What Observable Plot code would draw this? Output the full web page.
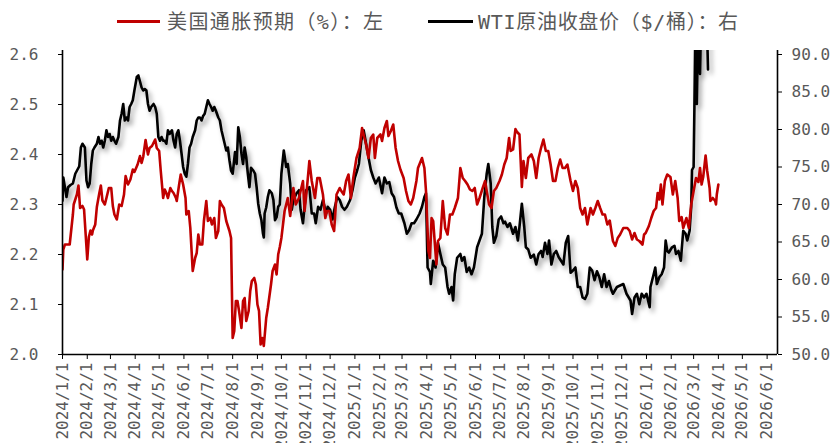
<!DOCTYPE html>
<html><head><meta charset="utf-8">
<script src="https://cdn.jsdelivr.net/npm/d3@7"></script>
<script src="https://cdn.jsdelivr.net/npm/@observablehq/plot@0.6"></script>
<style>
body{margin:0;background:#fff;}
#wrap{position:relative;width:832px;height:443px;overflow:hidden;background:#fff;}
#legend{position:relative;height:40px;font-family:"DejaVu Sans Mono",monospace;font-size:20px;color:#595959;}
.cjk{font-family:"Noto Sans CJK SC",sans-serif;}
.sw{position:absolute;height:3px;top:20px;}
.lt{position:absolute;top:8px;line-height:26px;white-space:nowrap;}
</style></head><body>
<div id="wrap"><div id="legend"></div><div id="chart"></div></div>
<script>
const seriesNames = ["美国通胀预期（%）：左", "WTI原油收盘价（$/桶）：右"];
const seriesColors = ["#C00000", "#000000"];

const leftTicks = [2.0, 2.1, 2.2, 2.3, 2.4, 2.5, 2.6];
const rightTicks = [50, 55, 60, 65, 70, 75, 80, 85, 90];
const xStart = "2024-01-01", xEnd = "2026-06-14";
const monthTicks = ["2024-01-01","2024-02-01","2024-03-01","2024-04-01","2024-05-01","2024-06-01","2024-07-01","2024-08-01","2024-09-01","2024-10-01","2024-11-01","2024-12-01","2025-01-01","2025-02-01","2025-03-01","2025-04-01","2025-05-01","2025-06-01","2025-07-01","2025-08-01","2025-09-01","2025-10-01","2025-11-01","2025-12-01","2026-01-01","2026-02-01","2026-03-01","2026-04-01","2026-05-01","2026-06-01"];

const inflDates = ["2024-01-01","2024-01-02","2024-01-04","2024-01-10","2024-01-14","2024-01-15","2024-01-19","2024-01-21","2024-01-23","2024-01-26","2024-01-28","2024-01-30","2024-02-01","2024-02-03","2024-02-05","2024-02-07","2024-02-08","2024-02-11","2024-02-13","2024-02-16","2024-02-18","2024-02-20","2024-02-23","2024-02-25","2024-02-28","2024-03-02","2024-03-04","2024-03-06","2024-03-09","2024-03-12","2024-03-15","2024-03-18","2024-03-20","2024-03-23","2024-03-26","2024-03-29","2024-03-31","2024-04-04","2024-04-07","2024-04-09","2024-04-11","2024-04-14","2024-04-17","2024-04-19","2024-04-22","2024-04-26","2024-04-28","2024-05-01","2024-05-03","2024-05-06","2024-05-08","2024-05-10","2024-05-12","2024-05-15","2024-05-17","2024-05-19","2024-05-22","2024-05-23","2024-05-26","2024-05-28","2024-05-31","2024-06-03","2024-06-04","2024-06-07","2024-06-09","2024-06-12","2024-06-15","2024-06-17","2024-06-19","2024-06-21","2024-06-24","2024-06-26","2024-06-29","2024-07-01","2024-07-04","2024-07-06","2024-07-09","2024-07-11","2024-07-14","2024-07-16","2024-07-18","2024-07-21","2024-07-24","2024-07-28","2024-07-30","2024-08-01","2024-08-03","2024-08-05","2024-08-07","2024-08-09","2024-08-12","2024-08-14","2024-08-16","2024-08-18","2024-08-21","2024-08-23","2024-08-25","2024-08-28","2024-08-30","2024-09-01","2024-09-03","2024-09-05","2024-09-07","2024-09-09","2024-09-12","2024-09-14","2024-09-18","2024-09-20","2024-09-23","2024-09-25","2024-09-27","2024-09-29","2024-10-01","2024-10-05","2024-10-09","2024-10-12","2024-10-16","2024-10-19","2024-10-23","2024-10-28","2024-10-30","2024-11-02","2024-11-05","2024-11-08","2024-11-12","2024-11-15","2024-11-18","2024-11-22","2024-11-25","2024-11-27","2024-11-30","2024-12-03","2024-12-06","2024-12-09","2024-12-13","2024-12-15","2024-12-18","2024-12-21","2024-12-24","2024-12-27","2024-12-30","2025-01-03","2025-01-07","2025-01-10","2025-01-13","2025-01-15","2025-01-18","2025-01-21","2025-01-24","2025-01-26","2025-01-29","2025-02-02","2025-02-04","2025-02-07","2025-02-10","2025-02-12","2025-02-15","2025-02-18","2025-02-21","2025-02-24","2025-02-27","2025-03-03","2025-03-06","2025-03-09","2025-03-12","2025-03-15","2025-03-19","2025-03-21","2025-03-26","2025-03-29","2025-03-31","2025-04-03","2025-04-05","2025-04-07","2025-04-09","2025-04-13","2025-04-15","2025-04-18","2025-04-21","2025-04-24","2025-04-27","2025-04-30","2025-05-03","2025-05-06","2025-05-10","2025-05-13","2025-05-16","2025-05-19","2025-05-22","2025-05-25","2025-05-28","2025-05-31","2025-06-03","2025-06-06","2025-06-10","2025-06-13","2025-06-15","2025-06-18","2025-06-21","2025-06-24","2025-06-27","2025-07-01","2025-07-04","2025-07-07","2025-07-10","2025-07-13","2025-07-15","2025-07-18","2025-07-21","2025-07-23","2025-07-26","2025-07-29","2025-07-31","2025-08-03","2025-08-06","2025-08-10","2025-08-13","2025-08-16","2025-08-19","2025-08-22","2025-08-25","2025-08-28","2025-08-31","2025-09-03","2025-09-06","2025-09-09","2025-09-12","2025-09-15","2025-09-18","2025-09-21","2025-09-24","2025-09-28","2025-10-01","2025-10-04","2025-10-07","2025-10-10","2025-10-13","2025-10-16","2025-10-19","2025-10-23","2025-10-26","2025-10-29","2025-11-01","2025-11-04","2025-11-07","2025-11-10","2025-11-13","2025-11-16","2025-11-20","2025-11-23","2025-11-26","2025-11-29","2025-12-03","2025-12-06","2025-12-08","2025-12-11","2025-12-14","2025-12-17","2025-12-20","2025-12-23","2025-12-27","2025-12-29","2025-12-31","2026-01-04","2026-01-07","2026-01-10","2026-01-13","2026-01-15","2026-01-17","2026-01-19","2026-01-21","2026-01-24","2026-01-27","2026-01-31","2026-02-03","2026-02-06","2026-02-09","2026-02-11","2026-02-14","2026-02-16","2026-02-20","2026-02-23","2026-02-26","2026-03-01","2026-03-04","2026-03-07","2026-03-09","2026-03-11","2026-03-13","2026-03-16","2026-03-18","2026-03-21","2026-03-22","2026-03-25","2026-03-28","2026-03-29","2026-03-30","2026-04-01"];
const inflValues = [2.17,2.21,2.22,2.22,2.28,2.30,2.32,2.338,2.293,2.297,2.29,2.24,2.19,2.235,2.248,2.24,2.248,2.26,2.295,2.322,2.338,2.308,2.30,2.313,2.333,2.333,2.297,2.28,2.27,2.30,2.297,2.32,2.357,2.34,2.35,2.37,2.365,2.38,2.397,2.383,2.395,2.429,2.40,2.413,2.417,2.43,2.413,2.407,2.367,2.313,2.33,2.323,2.313,2.333,2.327,2.323,2.313,2.307,2.34,2.36,2.34,2.313,2.28,2.287,2.253,2.167,2.193,2.203,2.24,2.22,2.22,2.267,2.307,2.267,2.273,2.26,2.273,2.233,2.247,2.307,2.30,2.293,2.267,2.247,2.233,2.033,2.047,2.107,2.107,2.087,2.053,2.107,2.113,2.067,2.087,2.127,2.147,2.153,2.14,2.10,2.087,2.02,2.033,2.017,2.073,2.093,2.14,2.167,2.18,2.16,2.20,2.215,2.233,2.287,2.313,2.277,2.333,2.30,2.313,2.347,2.287,2.333,2.387,2.347,2.313,2.353,2.353,2.32,2.273,2.287,2.287,2.26,2.247,2.32,2.333,2.327,2.32,2.347,2.36,2.313,2.353,2.393,2.413,2.453,2.433,2.42,2.393,2.433,2.44,2.393,2.433,2.44,2.427,2.453,2.467,2.437,2.447,2.46,2.413,2.387,2.37,2.353,2.327,2.307,2.30,2.313,2.347,2.373,2.393,2.373,2.327,2.207,2.193,2.273,2.267,2.18,2.227,2.233,2.307,2.253,2.24,2.28,2.28,2.293,2.313,2.373,2.353,2.347,2.34,2.33,2.327,2.333,2.30,2.313,2.333,2.347,2.327,2.30,2.293,2.327,2.333,2.347,2.36,2.38,2.393,2.433,2.407,2.41,2.451,2.445,2.44,2.335,2.387,2.353,2.393,2.40,2.387,2.353,2.393,2.413,2.43,2.407,2.407,2.38,2.347,2.347,2.373,2.39,2.373,2.373,2.38,2.347,2.327,2.347,2.333,2.293,2.28,2.293,2.26,2.293,2.28,2.293,2.307,2.293,2.28,2.28,2.26,2.268,2.227,2.217,2.233,2.24,2.253,2.253,2.253,2.247,2.23,2.243,2.23,2.227,2.22,2.24,2.243,2.257,2.273,2.287,2.293,2.323,2.31,2.34,2.30,2.347,2.36,2.355,2.32,2.347,2.313,2.267,2.275,2.253,2.273,2.253,2.30,2.327,2.353,2.345,2.373,2.34,2.355,2.398,2.367,2.333,2.307,2.313,2.307,2.30,2.32,2.34];

const wtiDates = ["2024-01-01","2024-01-02","2024-01-04","2024-01-06","2024-01-08","2024-01-11","2024-01-14","2024-01-17","2024-01-19","2024-01-22","2024-01-24","2024-01-26","2024-01-29","2024-01-31","2024-02-02","2024-02-04","2024-02-06","2024-02-08","2024-02-10","2024-02-13","2024-02-15","2024-02-17","2024-02-19","2024-02-21","2024-02-23","2024-02-25","2024-02-27","2024-02-29","2024-03-02","2024-03-04","2024-03-06","2024-03-08","2024-03-11","2024-03-13","2024-03-15","2024-03-17","2024-03-19","2024-03-21","2024-03-23","2024-03-25","2024-03-27","2024-03-29","2024-03-31","2024-04-03","2024-04-05","2024-04-07","2024-04-09","2024-04-11","2024-04-13","2024-04-15","2024-04-17","2024-04-19","2024-04-21","2024-04-24","2024-04-26","2024-04-28","2024-04-30","2024-05-02","2024-05-04","2024-05-06","2024-05-08","2024-05-10","2024-05-12","2024-05-14","2024-05-17","2024-05-19","2024-05-21","2024-05-23","2024-05-25","2024-05-27","2024-05-29","2024-05-31","2024-06-02","2024-06-04","2024-06-06","2024-06-08","2024-06-10","2024-06-12","2024-06-15","2024-06-17","2024-06-19","2024-06-21","2024-06-23","2024-06-25","2024-06-27","2024-06-29","2024-07-01","2024-07-03","2024-07-05","2024-07-07","2024-07-09","2024-07-11","2024-07-14","2024-07-16","2024-07-18","2024-07-20","2024-07-22","2024-07-24","2024-07-26","2024-07-28","2024-07-30","2024-08-01","2024-08-04","2024-08-06","2024-08-08","2024-08-10","2024-08-12","2024-08-14","2024-08-16","2024-08-18","2024-08-20","2024-08-22","2024-08-24","2024-08-27","2024-08-29","2024-08-31","2024-09-02","2024-09-04","2024-09-06","2024-09-08","2024-09-09","2024-09-10","2024-09-12","2024-09-14","2024-09-16","2024-09-19","2024-09-21","2024-09-23","2024-09-25","2024-09-27","2024-09-29","2024-10-01","2024-10-04","2024-10-07","2024-10-09","2024-10-12","2024-10-14","2024-10-16","2024-10-20","2024-10-23","2024-10-25","2024-10-28","2024-10-30","2024-11-01","2024-11-05","2024-11-08","2024-11-11","2024-11-13","2024-11-16","2024-11-19","2024-11-22","2024-11-26","2024-11-28","2024-12-01","2024-12-04","2024-12-07","2024-12-10","2024-12-13","2024-12-16","2024-12-19","2024-12-22","2024-12-26","2024-12-29","2025-01-01","2025-01-04","2025-01-06","2025-01-09","2025-01-12","2025-01-15","2025-01-18","2025-01-21","2025-01-24","2025-01-27","2025-01-31","2025-02-04","2025-02-07","2025-02-10","2025-02-13","2025-02-16","2025-02-19","2025-02-22","2025-02-25","2025-02-28","2025-03-04","2025-03-07","2025-03-10","2025-03-13","2025-03-16","2025-03-19","2025-03-23","2025-03-26","2025-03-29","2025-03-31","2025-04-02","2025-04-05","2025-04-06","2025-04-09","2025-04-12","2025-04-15","2025-04-18","2025-04-21","2025-04-24","2025-04-27","2025-04-29","2025-05-02","2025-05-04","2025-05-06","2025-05-09","2025-05-13","2025-05-15","2025-05-18","2025-05-21","2025-05-24","2025-05-27","2025-05-30","2025-06-03","2025-06-06","2025-06-09","2025-06-12","2025-06-15","2025-06-17","2025-06-20","2025-06-22","2025-06-24","2025-06-27","2025-06-30","2025-07-03","2025-07-06","2025-07-08","2025-07-11","2025-07-14","2025-07-18","2025-07-21","2025-07-24","2025-07-26","2025-07-29","2025-08-01","2025-08-03","2025-08-06","2025-08-09","2025-08-13","2025-08-16","2025-08-19","2025-08-22","2025-08-24","2025-08-27","2025-08-30","2025-09-01","2025-09-04","2025-09-07","2025-09-10","2025-09-13","2025-09-16","2025-09-19","2025-09-22","2025-09-25","2025-09-28","2025-10-01","2025-10-04","2025-10-07","2025-10-10","2025-10-13","2025-10-16","2025-10-19","2025-10-22","2025-10-25","2025-10-28","2025-10-31","2025-11-03","2025-11-06","2025-11-09","2025-11-12","2025-11-15","2025-11-18","2025-11-20","2025-11-25","2025-11-29","2025-12-03","2025-12-07","2025-12-12","2025-12-14","2025-12-17","2025-12-20","2025-12-23","2025-12-26","2025-12-29","2026-01-01","2026-01-05","2026-01-06","2026-01-10","2026-01-12","2026-01-14","2026-01-17","2026-01-20","2026-01-23","2026-01-25","2026-01-27","2026-01-29","2026-02-02","2026-02-05","2026-02-07","2026-02-10","2026-02-13","2026-02-16","2026-02-19","2026-02-21","2026-02-24","2026-02-26","2026-02-27","2026-03-01","2026-03-02","2026-03-03","2026-03-05","2026-03-07","2026-03-09","2026-03-11","2026-03-13","2026-03-15","2026-03-17","2026-03-19"];
const wtiValues = [70.5,73.6,72.3,71.0,72.3,72.6,72.8,74.1,74.5,75.1,77.6,78.1,77.6,73.2,72.3,72.8,75.4,77.2,77.6,78.1,79.0,78.1,78.5,77.6,78.5,79.9,79.0,79.4,78.5,79.0,78.5,78.1,79.0,81.2,82.1,83.4,81.2,81.6,81.2,83.0,83.4,83.9,85.2,87.0,87.2,86.4,85.6,85.2,85.4,85.2,83.4,82.5,83.0,83.4,83.0,82.1,79.0,78.5,79.0,78.5,78.5,78.1,79.9,79.4,79.9,78.5,77.6,79.4,79.9,78.5,76.8,75.0,74.1,73.7,75.4,77.6,78.1,79.0,79.9,81.2,81.6,81.6,81.2,81.8,82.1,83.0,83.9,83.4,83.0,82.5,83.0,82.5,81.6,81.2,79.9,79.0,78.1,77.2,77.6,75.9,74.5,74.1,77.0,75.4,80.3,79.0,76.8,75.4,77.6,76.3,74.1,72.3,74.9,74.5,74.1,72.3,70.1,68.8,67.9,66.1,65.6,68.8,69.6,71.0,71.9,71.5,70.6,67.9,68.3,69.7,70.0,74.1,77.2,75.0,75.4,72.8,69.3,70.6,71.5,71.9,69.3,67.5,69.7,71.9,72.3,68.8,68.8,67.5,69.7,69.3,70.6,68.8,69.7,69.3,68.0,69.7,71.0,70.6,69.7,69.3,69.7,70.6,71.9,73.6,74.6,75.4,78.5,79.9,78.1,76.3,74.6,73.6,72.8,73.6,71.5,73.6,72.8,73.0,71.5,71.0,69.6,68.8,68.8,67.5,66.1,66.6,67.5,67.5,68.0,68.8,69.7,71.0,71.5,61.6,61.0,59.4,62.5,61.6,64.9,63.4,62.0,61.6,59.0,58.1,59.0,57.2,60.7,62.9,63.4,62.5,63.0,61.0,61.6,60.7,61.6,64.3,65.2,66.1,71.0,74.1,75.4,72.8,67.0,64.9,65.8,68.0,68.4,67.5,67.7,67.0,67.5,66.1,67.0,65.2,67.0,70.1,67.0,64.3,64.0,62.9,63.3,62.0,63.4,63.8,63.0,64.9,63.4,65.2,62.0,63.4,63.8,63.0,62.5,62.0,64.9,65.8,60.9,61.2,61.6,59.0,59.0,57.6,57.4,58.1,61.6,61.2,59.9,61.1,60.3,59.0,60.7,59.0,59.8,58.6,58.1,59.0,59.2,59.4,58.1,57.2,55.4,57.6,58.1,56.7,58.1,57.6,58.1,56.3,59.0,60.7,61.6,59.4,60.3,60.7,61.6,65.2,63.8,63.6,64.3,64.5,63.4,63.8,62.5,66.5,66.1,65.2,66.5,69.7,74.6,75.0,83.0,92.0,83.4,96.0,87.4,98.0,94.0,100.0,97.0,88.0];

// map the right-axis (WTI) values onto the left scale
const toLeft = w => leftTicks[0] + (w - rightTicks[0]) / (rightTicks[rightTicks.length-1] - rightTicks[0]) * (leftTicks[leftTicks.length-1] - leftTicks[0]);
const fromLeft = v => rightTicks[0] + (v - leftTicks[0]) / (leftTicks[leftTicks.length-1] - leftTicks[0]) * (rightTicks[rightTicks.length-1] - rightTicks[0]);

const infl = inflDates.map((d, i) => ({date: new Date(d), v: inflValues[i]}));
const wti = wtiDates.map((d, i) => ({date: new Date(d), w: wtiValues[i]}));
const xDomain = [new Date(xStart), new Date(xEnd)];
const yDomain = [leftTicks[0], leftTicks[leftTicks.length-1]];
const fmtDate = d => `${d.getUTCFullYear()}/${d.getUTCMonth()+1}/${d.getUTCDate()}`;

// legend (CJK and full-width characters in a CJK font, the rest monospace)
const legend = document.getElementById("legend");
const swX = [117, 428], txX = [167, 478], swW = [43, 45], txSpacing = [1.4, 0.7];
seriesNames.forEach((n, i) => {
  const s = document.createElement("div");
  s.className = "sw"; s.style.left = swX[i] + "px"; s.style.width = swW[i] + "px"; s.style.background = seriesColors[i];
  legend.appendChild(s);
  const t = document.createElement("div");
  t.className = "lt"; t.style.left = txX[i] + "px"; t.style.letterSpacing = txSpacing[i] + "px";
  for (const ch of n) {
    const sp = document.createElement("span");
    if (ch.charCodeAt(0) > 0x2e80) sp.className = "cjk";
    sp.textContent = ch;
    t.appendChild(sp);
  }
  legend.appendChild(t);
});

const chart = Plot.plot({
  width: 832,
  height: 403,
  marginLeft: 62,
  marginRight: 55,
  marginTop: 10,
  marginBottom: 89,
  style: {fontFamily: "'DejaVu Sans Mono', monospace", fontSize: "16px", color: "#595959", background: "#fff"},
  x: {type: "utc", domain: xDomain},
  y: {domain: yDomain, range: [314, 14]},
  marks: [
    Plot.axisY(leftTicks, {anchor: "left", tickSize: 4, tickPadding: 20, tickFormat: d => d.toFixed(1), stroke: "#000", fill: "#595959", label: null}),
    Plot.axisY(rightTicks.map(toLeft), {anchor: "right", tickSize: 4, tickPadding: 10, tickFormat: d => fromLeft(d).toFixed(1), stroke: "#000", fill: "#595959", label: null}),
    Plot.axisX(monthTicks.map(d => new Date(d)), {anchor: "bottom", tickSize: 5, tickPadding: 3, tickRotate: -90, tickFormat: fmtDate, stroke: "#000", fill: "#595959", label: null}),
    Plot.line(wti, {x: "date", y: d => toLeft(d.w), stroke: seriesColors[1], strokeWidth: 2.6, strokeLinejoin: "round", clip: true, className: "wti-line"}),
    Plot.line(infl, {x: "date", y: "v", stroke: seriesColors[0], strokeWidth: 2.6, strokeLinejoin: "round", clip: true}),
    Plot.ruleX([xDomain[0], xDomain[1]], {stroke: "#000", strokeWidth: 1.6}),
    Plot.ruleY([yDomain[0]], {stroke: "#000", strokeWidth: 1.6})
  ]
});
document.getElementById("chart").appendChild(chart);

// soft drop shadow under the WTI line, like the original
const svg = d3.select(chart);
const f = svg.insert("defs", ":first-child").append("filter").attr("id", "wtiShadow")
  .attr("x", "-5%").attr("y", "-10%").attr("width", "115%").attr("height", "130%");
f.append("feDropShadow").attr("dx", 3).attr("dy", 4).attr("stdDeviation", 2.5)
  .attr("flood-color", "#000").attr("flood-opacity", 0.35);
svg.selectAll(".wti-line path").attr("filter", "url(#wtiShadow)");
</script>
</body></html>
